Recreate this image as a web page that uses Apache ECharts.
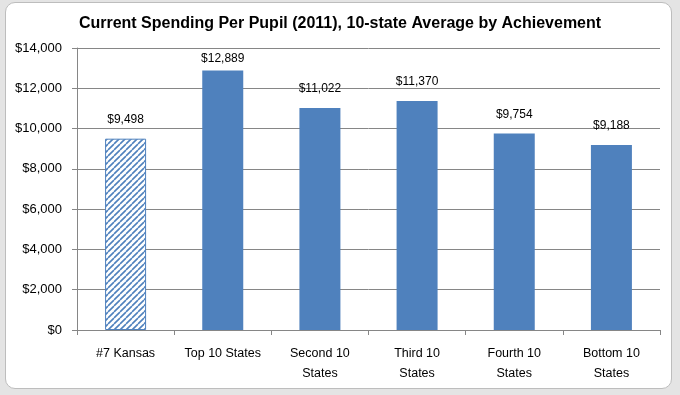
<!DOCTYPE html>
<html><head><meta charset="utf-8">
<script src="https://cdn.jsdelivr.net/npm/echarts@6/dist/echarts.min.js"></script>
<style>
html,body{margin:0;padding:0;background:#e4e4e4;}
#wrap{position:absolute;left:5px;top:2px;width:665px;height:385px;background:#fff;border:1px solid #bdbdbd;border-radius:10px;}
#c{position:absolute;left:-6px;top:-3px;width:680px;height:395px;}
</style></head>
<body>
<div id="wrap"><div id="c"></div></div>
<script>
const categories = ['#7 Kansas','Top 10 States','Second 10\nStates','Third 10\nStates','Fourth 10\nStates','Bottom 10\nStates'];
const values = [9498, 12889, 11022, 11370, 9754, 9188];
const yTicks = [0, 2000, 4000, 6000, 8000, 10000, 12000, 14000];

const blue = '#4f81bd';
const pc = document.createElement('canvas');
pc.width = 6; pc.height = 6;
const g = pc.getContext('2d');
g.fillStyle = '#fff'; g.fillRect(0,0,6,6);
g.strokeStyle = blue; g.lineWidth = 1.6;
g.beginPath();
for (let k=-6;k<=12;k+=6){ g.moveTo(k,6); g.lineTo(k+6,0); }
g.stroke();

const fmt = v => '$' + v.toLocaleString('en-US');
const font = 'Liberation Sans';
const data = values.map((v,i)=> {
  const d = {value:v, itemStyle: i===0 ? {color:{image:pc, repeat:'repeat'}, borderColor:blue, borderWidth:1} : {color:blue}};
  if (v > 12500) d.label = {distance:6};
  return d;
});

const chart = echarts.init(document.getElementById('c'));
chart.setOption({
  animation:false,
  title:{text:'Current Spending Per Pupil (2011), 10-state Average by Achievement', left:'center', top:11,
    textStyle:{fontFamily:font, fontWeight:'bold', fontSize:16, color:'#000'}},
  grid:{left:77, right:20, top:48, bottom:65},
  xAxis:{type:'category', data:categories,
    axisLine:{lineStyle:{color:'#868686'}}, axisTick:{show:true, length:5, lineStyle:{color:'#868686'}},
    axisLabel:{fontFamily:font, fontSize:12.5, color:'#000', margin:14, lineHeight:20, interval:0}},
  yAxis:{type:'value', min:yTicks[0], max:yTicks[yTicks.length-1], interval:2000,
    axisLine:{show:true, lineStyle:{color:'#868686'}}, axisTick:{show:true, length:5, lineStyle:{color:'#868686'}},
    splitLine:{lineStyle:{color:'#868686'}},
    axisLabel:{fontFamily:font, fontSize:13, color:'#000', margin:15, formatter:v=>fmt(v)}},
  series:[{type:'bar', data:data, barWidth:41,
    label:{show:true, position:'top', distance:13, fontFamily:font, fontSize:12, color:'#000', formatter:p=>fmt(p.value)}}]
});
</script>
</body></html>
